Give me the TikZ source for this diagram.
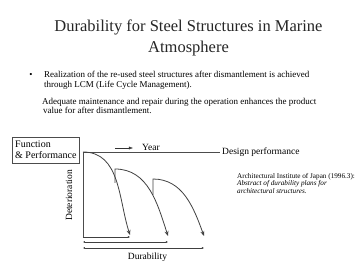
\documentclass[tikz,border=0pt]{standalone}
\usepackage{fontspec}
\setmainfont{Liberation Serif}
\usetikzlibrary{arrows.meta}
\begin{document}
\begin{tikzpicture}[x=1pt,y=-1pt]
\useasboundingbox (0,0) rectangle (360,270);
\node (t1) [anchor=base, inner sep=0, text=black!85, font=\fontsize{16.5}{18}\selectfont] at (188.5,32) {Durability for Steel Structures in Marine};
\node (t2) [anchor=base, inner sep=0, text=black!85, font=\fontsize{16.5}{18}\selectfont] at (188.5,53) {Atmosphere};

\node (dot) [anchor=base, inner sep=0, font=\fontsize{9}{10}\selectfont] at (31,78) {\textbullet};
\node (p1) [anchor=base west, inner sep=0, font=\fontsize{9}{10}\selectfont] at (44,78) {Realization of the re-used steel structures after dismantlement is achieved};
\node (p2) [anchor=base west, inner sep=0, font=\fontsize{9}{10}\selectfont] at (44,88) {through LCM (Life Cycle Management).};
\node (p3) [anchor=base west, inner sep=0, font=\fontsize{9}{10}\selectfont] at (42,105) {Adequate maintenance and repair during the operation enhances the product};
\node (p4) [anchor=base west, inner sep=0, font=\fontsize{9}{10}\selectfont] at (43,114) {value for after dismantlement.};

\node (fp) [draw, black!70, text=black, anchor=north west, inner xsep=3pt, inner ysep=4pt, minimum width=67pt, align=left, font=\fontsize{10}{11}\selectfont] at (12,137) {Function\\ \& Performance};

\coordinate (top) at (83,152);
\coordinate (o) at (83,237);
\node (design) [anchor=west, inner sep=2pt, font=\fontsize{9.5}{11}\selectfont] at (220,152) {Design performance};
\coordinate (ys) at (115,148);
\node (year) [anchor=west, inner sep=0, font=\fontsize{9.5}{11}\selectfont] at (142,147) {Year};
\coordinate (ye) at (133,148);
\node (det) [rotate=90, inner sep=0, font=\fontsize{9.5}{11}\selectfont] at (69,195.5) {Deterioration};
\node (dur) [anchor=base, inner sep=0, font=\fontsize{9.5}{11}\selectfont] at (147.5,260) {Durability};

\node (ref) [anchor=north west, inner sep=0, align=left, font=\fontsize{7.2}{7.4}\selectfont] at (237,173) {Architectural Institute of Japan (1996.3):\\ \textit{Abstract of durability plans for}\\ \textit{architectural structures.}};

\coordinate (e1) at (130,235);
\coordinate (j2) at (115,183);
\coordinate (s2) at (115,169);
\coordinate (e2) at (168,236);
\coordinate (j3) at (153,195);
\coordinate (s3) at (153,179);
\coordinate (e3) at (204,236);
\coordinate (h1) at (130,237);
\coordinate (a2) at (83,242);
\coordinate (h2) at (168,242);
\coordinate (a3) at (83,248);
\coordinate (h3) at (204,248);

\draw [black!70] (design.west) -- (top) -- (o);
\draw [black!80, -{Latex[length=4pt,width=3pt]}] (ys) -- (ye);

\draw [black!75, thick, -{Stealth[length=5pt,width=4pt]}] (top) to[out=0,in=108] (e1);
\draw [black!75, thick, -{Stealth[length=5pt,width=4pt]}] (j2) -- (s2) to[out=0,in=108] (e2);
\draw [black!75, thick, -{Stealth[length=5pt,width=4pt]}] (j3) -- (s3) to[out=0,in=110] (e3);

\draw [black!75, -{Latex[length=2pt,width=2pt]}] (o) -- (h1);
\draw [black!75, {Latex[length=2pt,width=2pt]}-{Latex[length=2pt,width=2pt]}] (a2) -- (h2);
\draw [black!75, {Latex[length=2pt,width=2pt]}-{Latex[length=2pt,width=2pt]}] (a3) -- (h3);
\end{tikzpicture}
\end{document}
